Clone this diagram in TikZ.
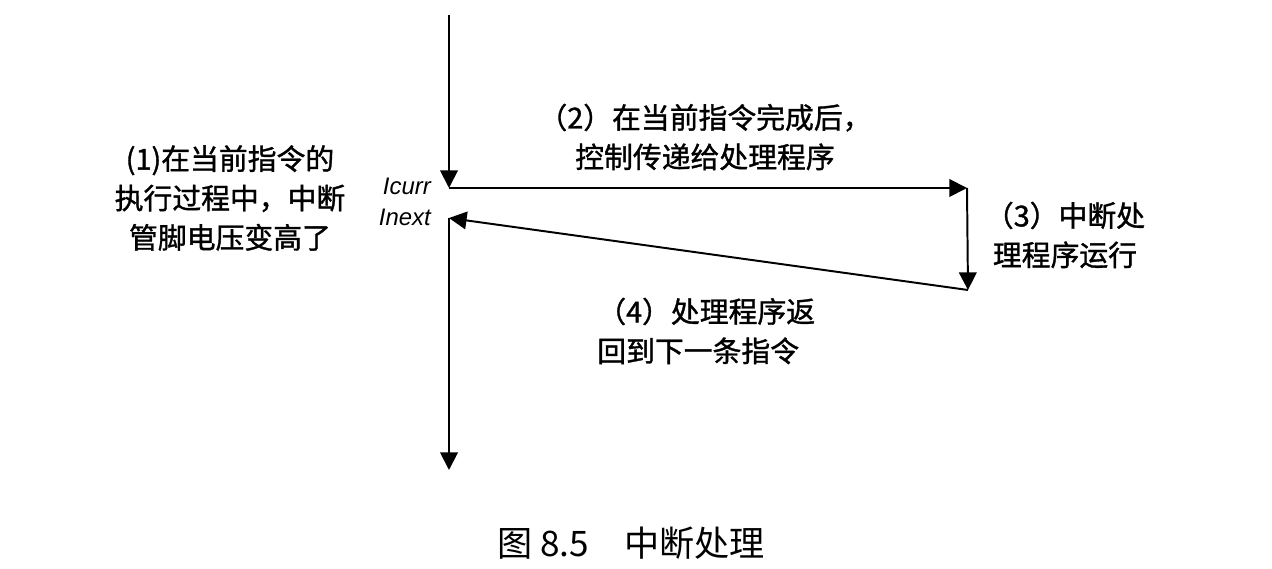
\documentclass[tikz,border=0pt]{standalone}
\usepackage{fontspec}
\setmainfont{Liberation Sans}
\newfontfamily\cjk[FakeBold=1.2]{Noto Sans CJK SC}
\newfontfamily\cjkcap{Noto Sans CJK SC}
\usetikzlibrary{arrows.meta}
\begin{document}
\begin{tikzpicture}[x=0.025cm,y=-0.025cm,
  flow/.style={line width=1.4pt,-{Triangle[length=4.4mm,width=4.4mm]}},
  label/.style={font=\cjk\fontsize{20.5}{28}\selectfont,inner sep=0pt},
  reg/.style={font=\itshape\fontsize{17}{20}\selectfont,inner sep=0pt}]
\useasboundingbox (0,0) rectangle (1272,569);
\coordinate (top) at (449,15);
\coordinate (curr) at (449,188);
\coordinate (ecurr) at (967,188);
\coordinate (eproc) at (968,290);
\coordinate (next) at (449,218);
\coordinate (bottom) at (449,470);
\draw[flow] (top) -- (curr);
\draw[flow] (curr) -- (ecurr);
\draw[flow] (ecurr) -- (eproc);
\draw[flow] (eproc) -- (next);
\draw[flow] (next) -- (bottom);
\node[reg,anchor=east] (icurr) at (431,186) {Icurr};
\node[reg,anchor=east] (inext) at (431,217) {Inext};
\node[label,align=center] (t1) at (230,198) {(1)在当前指令的\\执行过程中，中断\\管脚电压变高了};
\node[label,align=center] (t2) at (705,137) {（2）在当前指令完成后，\\控制传递给处理程序};
\node[label,align=center] (t3) at (1065,235) {（3）中断处\\理程序运行};
\node[label,align=left,anchor=west] (t4) at (597,331) {（4）处理程序返\\回到下一条指令};
\node[font=\cjkcap\fontsize{25}{30}\selectfont,inner sep=0pt] (cap) at (631,543) {图 8.5\quad 中断处理};
\end{tikzpicture}
\end{document}
